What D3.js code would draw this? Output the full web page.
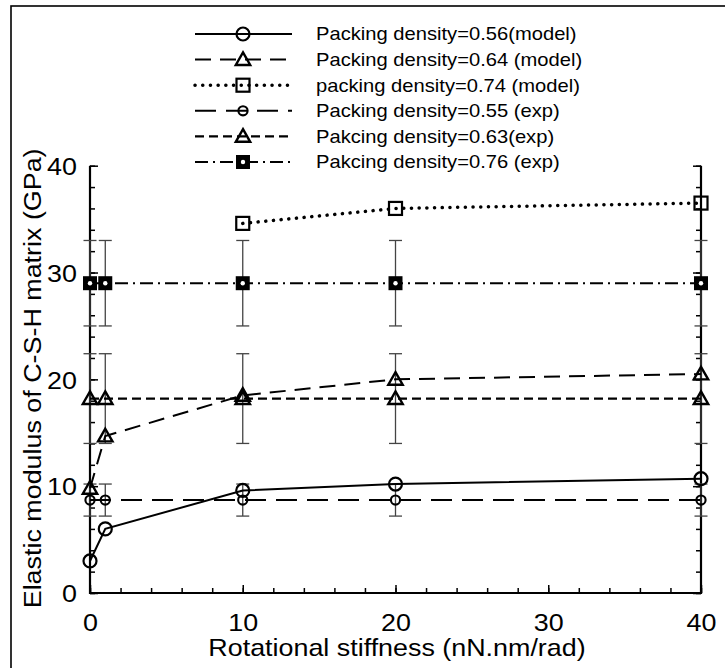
<!DOCTYPE html>
<html>
<head>
<meta charset="utf-8">
<script src="https://cdn.jsdelivr.net/npm/d3@7/dist/d3.min.js"></script>
<style>
  html, body { margin: 0; padding: 0; background: #fff; }
  svg { display: block; font-family: "Liberation Sans", Arial, sans-serif; }
</style>
</head>
<body>
<svg id="chart" width="725" height="668"></svg>
<script>
// Rotational stiffness values (nN.nm/rad)
const stiffness = [0, 1, 10, 20, 40];
const stiffness074 = [10, 20, 40];

// Model predictions (GPa)
const model056 = [3.0, 6.0, 9.6, 10.2, 10.7];
const model064 = [9.8, 14.7, 18.5, 20.0, 20.5];
const model074 = [34.6, 36.0, 36.5];

// Experimental values (GPa) and their error ranges
const exp055 = [8.7, 8.7, 8.7, 8.7, 8.7];
const exp055Err = [1.5, 1.5, 1.5, 1.5, 1.5];
const exp063 = [18.2, 18.2, 18.2, 18.2, 18.2];
const exp063Err = [4.2, 4.2, 4.2, 4.2, 4.2];
const exp076 = [29.0, 29.0, 29.0, 29.0, 29.0];
const exp076Err = [4.0, 4.0, 4.0, 4.0, 4.0];

const xTicks = [0, 10, 20, 30, 40];
const yTicks = [0, 10, 20, 30, 40];

const legendLabels = [
  "Packing density=0.56(model)",
  "Packing density=0.64 (model)",
  "packing density=0.74 (model)",
  "Packing density=0.55 (exp)",
  "Pakcing density=0.63(exp)",
  "Pakcing density=0.76 (exp)"
];

// glyphs are drawn slightly wide
const STRETCH = 1.12;

const svg = d3.select("#chart");

// outer frame
svg.append("rect")
  .attr("x", 11).attr("y", 6).attr("width", 800).attr("height", 800)
  .attr("fill", "none").attr("stroke", "#000").attr("stroke-width", 1.6);

const x = d3.scaleLinear().domain([0, 40]).range([90, 701]);
const y = d3.scaleLinear().domain([0, 40]).range([593, 165.7]);

// ---- axes ----
const minor = d3.range(0, 40.01, 2);
const axisG = svg.append("g");

function styleAxis(g) {
  g.select(".domain").remove();
  g.selectAll("line").attr("stroke", "#000").attr("stroke-width", 1.5);
}

// bottom
axisG.append("g").attr("transform", `translate(0,${y(0)})`)
  .call(d3.axisBottom(x).tickValues(minor).tickSize(-5).tickFormat(""))
  .call(styleAxis);
axisG.append("g").attr("transform", `translate(0,${y(0)})`)
  .call(d3.axisBottom(x).tickValues(xTicks).tickSize(-8).tickPadding(0).tickFormat(d3.format("d")))
  .call(styleAxis)
  .call(g => g.selectAll("text").attr("font-size", 24).attr("fill", "#000")
    .attr("dy", null).attr("y", 38).attr("transform", `scale(${STRETCH},1)`));
// left
axisG.append("g").attr("transform", `translate(${x(0)},0)`)
  .call(d3.axisLeft(y).tickValues(minor).tickSize(-5).tickFormat(""))
  .call(styleAxis);
axisG.append("g").attr("transform", `translate(${x(0)},0)`)
  .call(d3.axisLeft(y).tickValues(yTicks).tickSize(-8).tickPadding(0).tickFormat(d3.format("d")))
  .call(styleAxis)
  .call(g => g.selectAll("text").attr("font-size", 24).attr("fill", "#000")
    .attr("x", -13 / STRETCH).attr("dy", "0.36em").attr("transform", `scale(${STRETCH},1)`));
// right
axisG.append("g").attr("transform", `translate(${x(40)},0)`)
  .call(d3.axisRight(y).tickValues(minor).tickSize(-5).tickFormat(""))
  .call(styleAxis);
axisG.append("g").attr("transform", `translate(${x(40)},0)`)
  .call(d3.axisRight(y).tickValues(yTicks).tickSize(-8).tickFormat(""))
  .call(styleAxis);

// axis lines (left, bottom, right)
svg.append("path")
  .attr("d", `M${x(0)},${y(40)}V${y(0)}H${x(40)}V${y(40)}`)
  .attr("fill", "none").attr("stroke", "#000").attr("stroke-width", 2.2);

// axis titles
svg.append("text")
  .attr("transform", `translate(397,656) scale(${STRETCH},1)`)
  .attr("text-anchor", "middle")
  .attr("font-size", 24).text("Rotational stiffness (nN.nm/rad)");
svg.append("text")
  .attr("transform", `translate(41,${y(20) - 1}) rotate(-90) scale(${STRETCH},1)`)
  .attr("text-anchor", "middle")
  .attr("font-size", 24).text("Elastic modulus of C-S-H matrix (GPa)");

// ---- series definitions ----
const series = [
  { xs: stiffness, ys: model056, dash: null, width: 2, marker: "circleL" },
  { xs: stiffness, ys: model064, dash: "16,9", width: 2, marker: "triangle" },
  { xs: stiffness074, ys: model074, dash: "0.1,7.6", width: 3.5, cap: "round", marker: "square" },
  { xs: stiffness, ys: exp055, err: exp055Err, dash: "21,10", width: 2, marker: "circleS" },
  { xs: stiffness, ys: exp063, err: exp063Err, dash: "9,5", width: 2.2, marker: "triangle" },
  { xs: stiffness, ys: exp076, err: exp076Err, dash: "13,5,2,5", width: 2, marker: "squareF" }
];

// open markers let the lines and axes show through them
function drawMarker(g, type, cx, cy) {
  if (type === "circleL") {
    g.append("circle").attr("cx", cx).attr("cy", cy).attr("r", 6.5)
      .attr("fill", "none").attr("stroke", "#000").attr("stroke-width", 2.2);
  } else if (type === "circleS") {
    g.append("circle").attr("cx", cx).attr("cy", cy).attr("r", 4.6)
      .attr("fill", "none").attr("stroke", "#000").attr("stroke-width", 2.1);
  } else if (type === "triangle") {
    const s = 7.2;
    g.append("path")
      .attr("d", `M${cx},${cy - s}L${cx + s},${cy + s * 0.75}L${cx - s},${cy + s * 0.75}Z`)
      .attr("fill", "none").attr("stroke", "#000").attr("stroke-width", 2.4)
      .attr("stroke-linejoin", "miter");
  } else if (type === "square") {
    g.append("rect").attr("x", cx - 6.5).attr("y", cy - 6.5).attr("width", 13).attr("height", 13)
      .attr("fill", "none").attr("stroke", "#000").attr("stroke-width", 2.2);
  } else if (type === "squareF") {
    g.append("rect").attr("x", cx - 7).attr("y", cy - 7).attr("width", 14).attr("height", 14)
      .attr("fill", "#000");
    g.append("circle").attr("cx", cx).attr("cy", cy).attr("r", 2.2).attr("fill", "#fff");
  }
}

const plot = svg.append("g");
const line = d3.line().x(d => x(d[0])).y(d => y(d[1]));

// error bars
series.filter(s => s.err).forEach(s => {
  const eg = plot.append("g");
  s.xs.forEach((xv, i) => {
    const cx = x(xv), lo = y(s.ys[i] - s.err[i]), hi = y(s.ys[i] + s.err[i]);
    eg.append("line").attr("x1", cx).attr("x2", cx).attr("y1", lo).attr("y2", hi);
    eg.append("line").attr("x1", cx - 6.5).attr("x2", cx + 6.5).attr("y1", lo).attr("y2", lo);
    eg.append("line").attr("x1", cx - 6.5).attr("x2", cx + 6.5).attr("y1", hi).attr("y2", hi);
  });
  eg.selectAll("line").attr("stroke", "#444").attr("stroke-width", 1.3);
});

// lines
series.forEach(s => {
  plot.append("path")
    .datum(s.xs.map((xv, i) => [xv, s.ys[i]]))
    .attr("d", line)
    .attr("fill", "none").attr("stroke", "#000")
    .attr("stroke-width", s.width)
    .attr("stroke-dasharray", s.dash)
    .attr("stroke-linecap", s.cap || "butt");
});

// markers
series.forEach(s => {
  const mg = plot.append("g");
  s.xs.forEach((xv, i) => drawMarker(mg, s.marker, x(xv), y(s.ys[i])));
});

// ---- legend ----
const legend = svg.append("g");
series.forEach((s, i) => {
  const ly = 34 + i * 25.6;
  const g = legend.append("g");
  g.append("line").attr("x1", 195).attr("x2", 292).attr("y1", ly).attr("y2", ly)
    .attr("stroke", "#000").attr("stroke-width", s.width)
    .attr("stroke-dasharray", s.dash)
    .attr("stroke-linecap", s.cap || "butt");
  drawMarker(g, s.marker, 243, ly);
  g.append("text")
    .attr("transform", `translate(316,${ly}) scale(${STRETCH},1)`)
    .attr("dy", "0.36em")
    .attr("font-size", 18).text(legendLabels[i]);
});
</script>
</body>
</html>
